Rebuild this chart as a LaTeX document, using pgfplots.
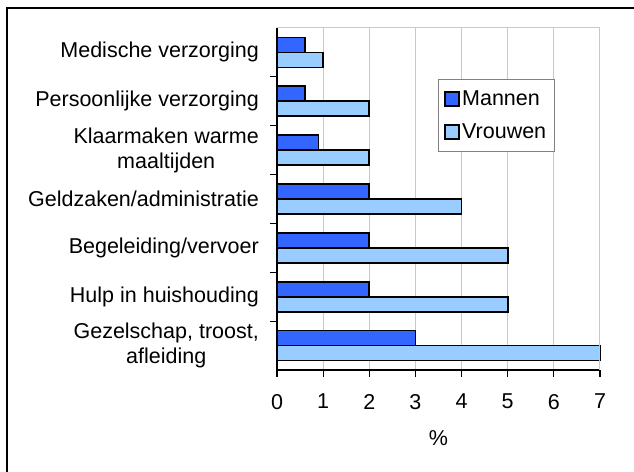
\documentclass[border=0pt]{standalone}
\usepackage{pgfplots}
\pgfplotsset{compat=1.18}
\usepackage{fontspec}
\setmainfont{Liberation Sans}
\definecolor{mannen}{HTML}{3366FF}
\definecolor{vrouwen}{HTML}{99CCFF}
\definecolor{gridc}{HTML}{C8C8C8}
\begin{document}
\begin{tikzpicture}
\useasboundingbox (0,0) rectangle (634bp,472bp);
\fill[white] (0,0) rectangle (634bp,472bp);
\draw[line width=1.5bp, black] (7bp,-10bp) -- (7bp,464bp) -- (650bp,464bp);
\begin{axis}[
  at={(277bp,102bp)}, anchor=south west,
  scale only axis, width=323bp, height=342bp,
  xmin=0, xmax=7, ymin=-0.5, ymax=6.5,
  xbar, bar width=15bp,
  axis x line*=bottom, axis y line*=left,
  axis line style={black, line width=1.2bp},
  xtick={0,1,...,7},
  xmajorgrids, grid style={gridc, line width=1bp},
  ytick={0.5,1.5,2.5,3.5,4.5,5.5},
  yticklabels={},
  extra y ticks={0,...,6},
  extra y tick labels={{Gezelschap, troost,\\afleiding}, Hulp in huishouding, Begeleiding/vervoer, Geldzaken/administratie, {Klaarmaken warme\\maaltijden}, Persoonlijke verzorging, Medische verzorging},
  extra y tick style={major tick length=0pt},
  tick style={black, line width=1.2bp}, major tick length=7bp, tick align=outside,
  tick label style={font=\fontsize{21.5bp}{25bp}\selectfont},
  /pgf/number format/assume math mode=true,
  yticklabel style={align=center, inner sep=0pt, xshift=-18bp},
  xticklabel style={inner sep=0pt, yshift=-17bp},
  xlabel={\%},
  xlabel style={font=\fontsize{21.5bp}{25bp}\selectfont, at={(axis description cs:0.5,0)}, anchor=center, yshift=-68bp},
  legend style={at={(rel axis cs:0.498,0.85)}, anchor=north west, draw=gray, line width=1bp, font=\fontsize{21.5bp}{25bp}\selectfont, inner xsep=6bp, inner ysep=9bp, row sep=13bp, cells={anchor=west}},
  legend image code/.code={\draw[#1, line width=1.8bp, draw=black] (0bp,-7bp) rectangle (14bp,7bp);},
  clip=false,
]
\addplot[fill=mannen, draw=black, line width=1.8bp, bar shift=7.5bp] coordinates {(3,0) (2,1) (2,2) (2,3) (0.9,4) (0.6,5) (0.6,6)};
\addplot[fill=vrouwen, draw=black, line width=1.8bp, bar shift=-7.5bp] coordinates {(7,0) (5,1) (5,2) (4,3) (2,4) (2,5) (1,6)};
\legend{Mannen, Vrouwen}
\draw[gridc, line width=1bp] (rel axis cs:0,1) -- (rel axis cs:1,1) -- (rel axis cs:1,0);
\end{axis}
\end{tikzpicture}
\end{document}
